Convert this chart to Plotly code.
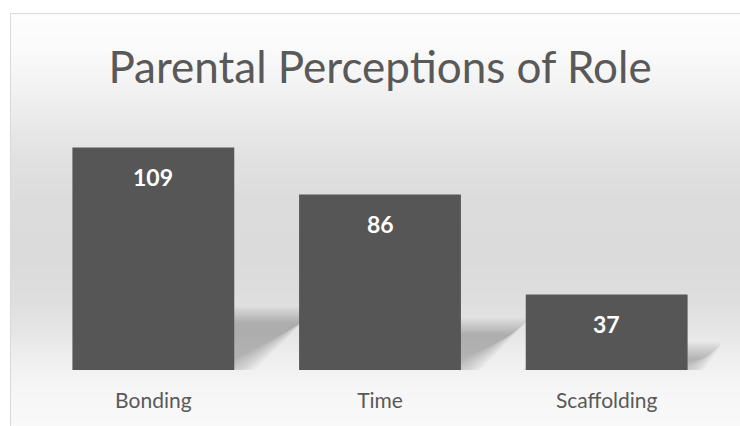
import numpy as np
import plotly.graph_objects as go

# Survey counts per perceived parental role
categories = ["Bonding", "Time", "Scaffolding"]
counts = [109, 86, 37]

title_text = "Parental Perceptions of Role"

W, H = 740, 426
M_L, M_R, M_T, M_B = 40, 20, 125, 56
Y_MAX = 120
plot_w = W - M_L - M_R
plot_h = H - M_T - M_B
bar_width = 0.714

BAR_COLOR = "#565656"
TEXT_GRAY = "#595959"


def px_to_paper_x(px):
    return (px - M_L) / plot_w


def px_to_paper_y(py):
    return (H - M_B - py) / plot_h


shapes = []

# Chart-area background: vertical grey gradient inside a thin frame
frame_left, frame_top = 10, 13
grad_y = [13, 45, 80, 120, 160, 200, 260, 300, 330, 360, 390, 426]
grad_v = [253, 251, 244, 234, 225, 220, 219, 222, 229, 239, 246, 249]
step = 2
for y0 in range(frame_top, H + 4, step):
    g = int(round(np.interp(y0 + step / 2, grad_y, grad_v)))
    shapes.append(dict(
        type="rect", xref="paper", yref="paper", layer="below",
        x0=px_to_paper_x(frame_left), x1=px_to_paper_x(W + 40),
        y0=px_to_paper_y(y0 + step + 0.5), y1=px_to_paper_y(y0),
        fillcolor=f"rgb({g},{g},{g})", line=dict(width=0),
    ))
shapes.append(dict(
    type="rect", xref="paper", yref="paper", layer="below",
    x0=px_to_paper_x(frame_left + 0.5), x1=px_to_paper_x(W + 40),
    y0=px_to_paper_y(H + 40), y1=px_to_paper_y(frame_top + 0.5),
    fillcolor="rgba(0,0,0,0)", line=dict(color="#d9d9d9", width=1),
))

# Soft perspective shadows cast back and to the right of each bar
px_per_x = plot_w / 3.0
px_per_y = plot_h / Y_MAX
SHADOW_K = 0.24      # shadow height as a share of bar height
SHADOW_SLANT = 1.4   # horizontal run per unit of shadow height (pixels)
blur_steps = np.linspace(10, -7, 14)
for i, v in enumerate(counts):
    sh_h = SHADOW_K * v * px_per_y            # pixels
    dx = SHADOW_SLANT * sh_h / px_per_x        # x units
    top = SHADOW_K * v
    x0 = i - bar_width / 2
    x1 = i + bar_width / 2
    for e in blur_steps:
        ex = e / px_per_x
        ey = e / px_per_y
        path = (f"M {x0 - ex} {-ey} L {x1 + ex} {-ey} "
                f"L {x1 + dx + ex} {top + ey} L {x0 + dx - ex} {top + ey} Z")
        shapes.append(dict(
            type="path", xref="x", yref="y", layer="below", path=path,
            fillcolor="rgba(60,60,60,0.028)", line=dict(width=0),
        ))

fig = go.Figure()
fig.add_trace(go.Bar(
    x=list(range(len(categories))),
    y=counts,
    width=bar_width,
    marker=dict(color=BAR_COLOR, line=dict(width=0)),
    hoverinfo="skip",
))

annotations = []
for i, v in enumerate(counts):
    annotations.append(dict(
        x=i, y=v, xref="x", yref="y", text=str(v), showarrow=False,
        yanchor="middle", yshift=-30,
        font=dict(family="Lato", size=23, color="white", weight="bold"),
    ))

fig.update_layout(
    width=W, height=H,
    margin=dict(l=M_L, r=M_R, t=M_T, b=M_B, pad=0),
    paper_bgcolor="white",
    plot_bgcolor="rgba(0,0,0,0)",
    showlegend=False,
    title=dict(
        text=title_text, x=380 / W, xref="container", xanchor="center",
        y=1 - 68 / H, yref="container", yanchor="middle",
        font=dict(family="Lato", size=44, color=TEXT_GRAY, weight=400),
    ),
    xaxis=dict(
        range=[-0.5, 2.5], tickvals=list(range(len(categories))),
        ticktext=categories, showgrid=False, zeroline=False,
        showline=False, ticks="", ticklabelstandoff=16,
        tickfont=dict(family="Lato", size=21, color=TEXT_GRAY),
        fixedrange=True,
    ),
    yaxis=dict(range=[0, Y_MAX], visible=False, fixedrange=True),
    shapes=shapes,
    annotations=annotations,
)

fig.write_html("out.html")
